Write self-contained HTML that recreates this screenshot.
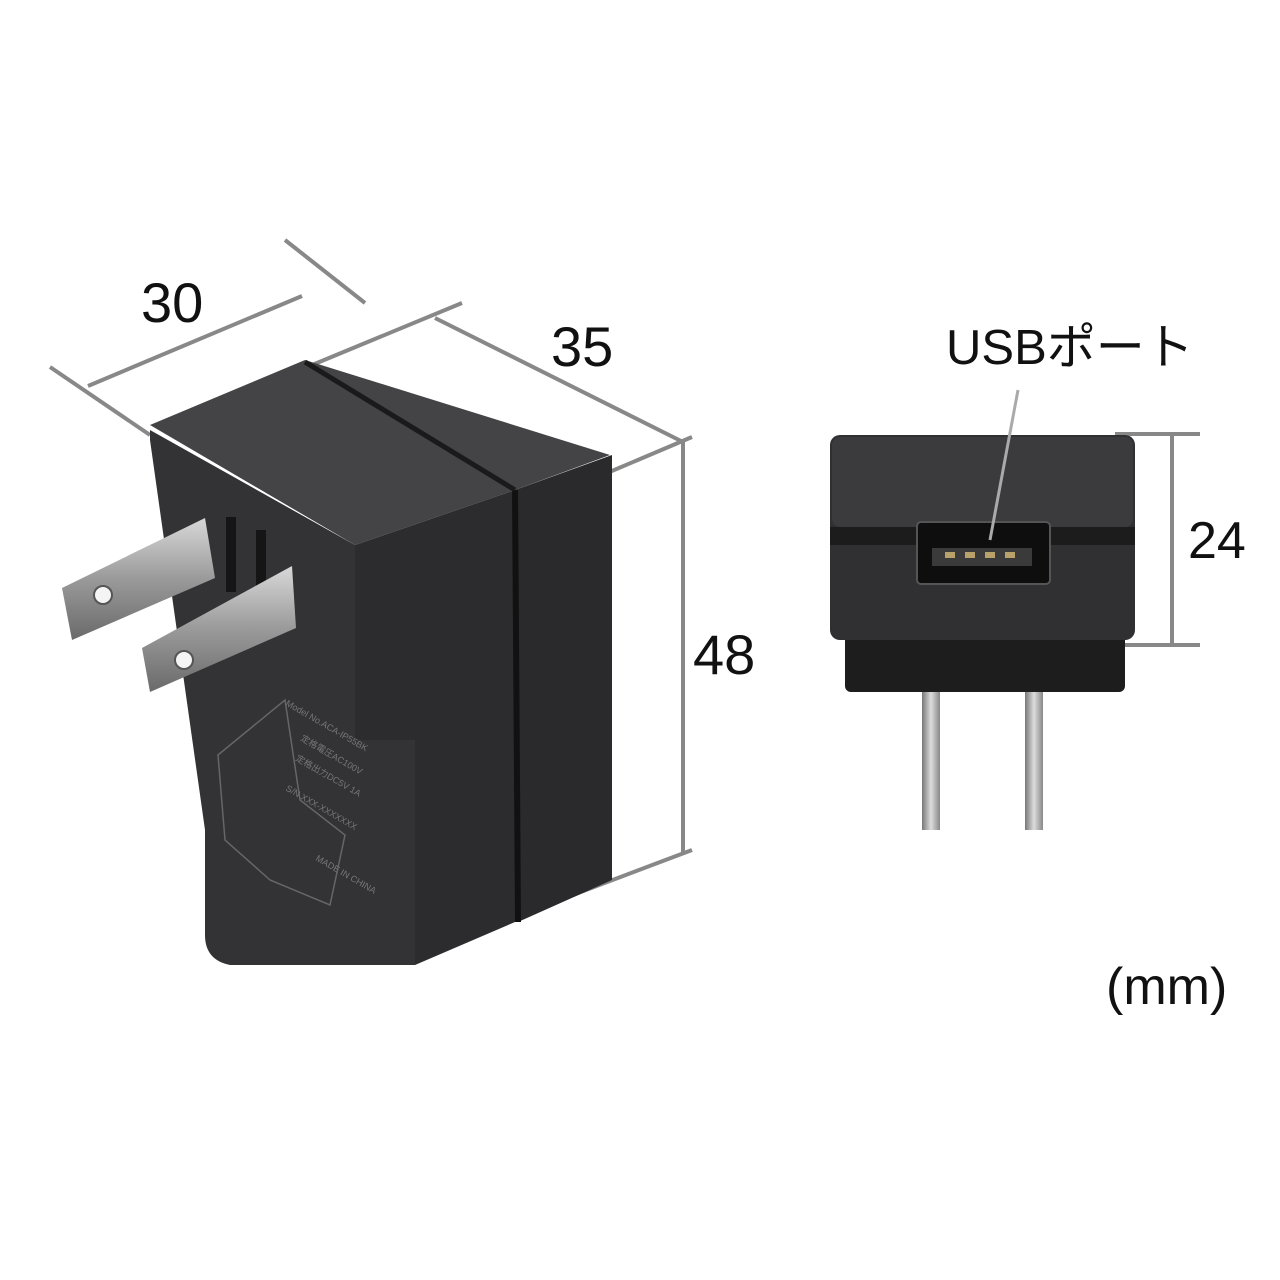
<!DOCTYPE html>
<html><head><meta charset="utf-8"><style>
html,body{margin:0;padding:0;background:#fff;}
svg{display:block;}
text{font-family:"Liberation Sans","Noto Sans CJK JP",sans-serif;fill:#111;}
</style></head><body>
<svg width="1280" height="1280" viewBox="0 0 1280 1280">
<defs>
<linearGradient id="pr" x1="0" y1="0" x2="0" y2="1">
<stop offset="0" stop-color="#d8d8d8"/><stop offset="0.5" stop-color="#9a9a9a"/><stop offset="1" stop-color="#6a6a6a"/>
</linearGradient>
<linearGradient id="pv" x1="0" y1="0" x2="1" y2="0">
<stop offset="0" stop-color="#777"/><stop offset="0.5" stop-color="#ddd"/><stop offset="1" stop-color="#888"/>
</linearGradient>
</defs>
<g stroke="#888" stroke-width="4" fill="none">
<line x1="50" y1="367" x2="150" y2="435"/>
<line x1="88" y1="386" x2="302" y2="296"/>
<line x1="285" y1="240" x2="365" y2="303"/>
<line x1="300" y1="370" x2="462" y2="303"/>
<line x1="435" y1="318" x2="683" y2="442"/>
<line x1="600" y1="476" x2="692" y2="437"/>
<line x1="683" y1="442" x2="683" y2="855"/>
<line x1="520" y1="915" x2="692" y2="850"/>
</g>
<text x="141" y="322" font-size="56">30</text>
<text x="551" y="366" font-size="56">35</text>
<text x="693" y="674" font-size="56">48</text>
<polygon points="150,425 305,360 610,455 515,490 355,545" fill="#444446"/>
<path d="M150,430 L355,545 L355,740 L415,740 L415,965 L230,965 Q205,960 205,935 L205,830 L150,440 Z" fill="#333335"/>
<polygon points="355,545 515,490 515,922 415,965 415,740 355,740" fill="#2c2c2e"/>
<polygon points="515,490 612,455 612,880 518,922" fill="#2a2a2c"/>
<line x1="515" y1="490" x2="518" y2="922" stroke="#111" stroke-width="6"/>
<line x1="305" y1="362" x2="515" y2="490" stroke="#1a1a1a" stroke-width="5"/>
<rect x="226" y="517" width="10" height="75" fill="#151515"/>
<rect x="256" y="530" width="10" height="70" fill="#151515"/>
<polygon points="62,588 205,518 215,578 72,640" fill="url(#pr)"/>
<circle cx="103" cy="595" r="9" fill="#f4f4f4" stroke="#555" stroke-width="2"/>
<polygon points="142,648 292,566 296,628 150,692" fill="url(#pr)"/>
<circle cx="184" cy="660" r="9" fill="#f4f4f4" stroke="#555" stroke-width="2"/>
<polygon points="218,755 285,700 300,800 345,835 330,905 270,880 225,840" fill="none" stroke="#666" stroke-width="1.5"/>
<g font-size="9">
<text transform="translate(285,705) rotate(30)" style="fill:#777">Model No.ACA-IP55BK</text>
<text transform="translate(300,740) rotate(30)" style="fill:#777">定格電圧AC100V</text>
<text transform="translate(295,760) rotate(30)" style="fill:#777">定格出力DC5V 1A</text>
<text transform="translate(285,790) rotate(30)" style="fill:#777">S/N XXX-XXXXXXX</text>
<text transform="translate(315,860) rotate(30)" style="fill:#777">MADE IN CHINA</text>
</g>
<g stroke="#888" stroke-width="4" fill="none">
<line x1="1115" y1="434" x2="1200" y2="434"/>
<line x1="1120" y1="645" x2="1200" y2="645"/>
<line x1="1172" y1="434" x2="1172" y2="645"/>
</g>
<text x="1188" y="558" font-size="52">24</text>
<text x="946" y="364" font-size="49">USBポート</text>
<rect x="845" y="630" width="280" height="62" rx="6" fill="#1d1d1e"/>
<rect x="830" y="435" width="305" height="205" rx="10" fill="#303032"/>
<rect x="832" y="437" width="301" height="90" rx="8" fill="#3b3b3d"/>
<rect x="830" y="527" width="305" height="18" fill="#1c1c1d"/>
<rect x="917" y="522" width="133" height="62" rx="4" fill="#0e0e0e" stroke="#555" stroke-width="2"/>
<rect x="932" y="548" width="100" height="18" fill="#3a3a3a"/>
<g fill="#b9a26a"><rect x="945" y="552" width="10" height="6"/><rect x="965" y="552" width="10" height="6"/><rect x="985" y="552" width="10" height="6"/><rect x="1005" y="552" width="10" height="6"/></g>
<line x1="1018" y1="390" x2="990" y2="540" stroke="#aaa" stroke-width="3"/>
<rect x="922" y="692" width="18" height="138" fill="url(#pv)"/>
<rect x="1025" y="692" width="18" height="138" fill="url(#pv)"/>
<text x="1106" y="1004" font-size="52">(mm)</text>
</svg>
</body></html>
